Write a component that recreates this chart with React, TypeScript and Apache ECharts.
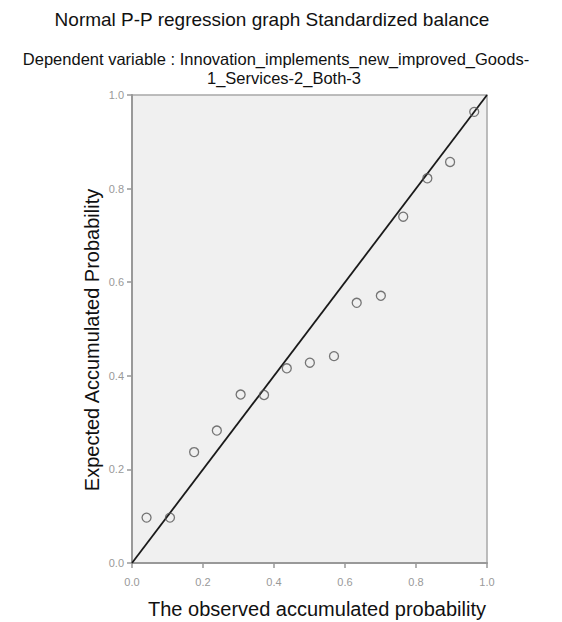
import React, { useEffect, useRef } from "react";
import * as echarts from "echarts";

const titleLine1 = "Normal P-P regression graph Standardized balance";
const titleLine2 = "Dependent variable : Innovation_implements_new_improved_Goods-";
const titleLine3 = "1_Services-2_Both-3";
const xAxisName = "The observed accumulated probability";
const yAxisName = "Expected Accumulated Probability";

const observedProb = [0.041, 0.107, 0.175, 0.239, 0.306, 0.372, 0.436, 0.501, 0.569, 0.633, 0.701, 0.764, 0.832, 0.896, 0.964];
const expectedProb = [0.097, 0.097, 0.237, 0.283, 0.360, 0.359, 0.416, 0.428, 0.442, 0.556, 0.571, 0.740, 0.822, 0.857, 0.964];
const referenceLine = [[0, 0], [1, 1]];

const FONT = "Liberation Sans, Arial, sans-serif";

export default function App() {
  const ref = useRef<HTMLDivElement>(null);

  useEffect(() => {
    document.body.style.margin = "0";
    if (!ref.current) return;
    const chart = echarts.init(ref.current, undefined, { renderer: "svg" });
    const points = observedProb.map((x, i) => [x, expectedProb[i]]);
    const axisCommon = {
      type: "value" as const,
      min: 0,
      max: 1,
      interval: 0.2,
      splitLine: { show: false },
      axisLine: { show: true, lineStyle: { color: "#999", width: 2 } },
      axisTick: { show: true, length: 5, lineStyle: { color: "#999", width: 1.5 } },
      axisLabel: {
        color: "#999",
        fontSize: 11,
        fontFamily: FONT,
        formatter: (v: number) => v.toFixed(1),
      },
    };
    chart.setOption({
      animation: false,
      backgroundColor: "#ffffff",
      grid: {
        left: 132,
        top: 95,
        width: 355,
        height: 468,
        show: true,
        backgroundColor: "#f0f0f0",
        borderColor: "#a8a8a8",
        borderWidth: 1.5,
      },
      xAxis: {
        ...axisCommon,
        axisLabel: { ...axisCommon.axisLabel, margin: 13 },
      },
      yAxis: {
        ...axisCommon,
        axisLabel: { ...axisCommon.axisLabel, margin: 8 },
      },
      graphic: [
        {
          type: "text",
          x: 272,
          y: 19,
          style: { text: titleLine1, font: `19px ${FONT}`, fill: "#111", textAlign: "center", textVerticalAlign: "middle" },
        },
        {
          type: "text",
          x: 276,
          y: 59,
          style: { text: titleLine2, font: `16.5px ${FONT}`, fill: "#111", textAlign: "center", textVerticalAlign: "middle" },
        },
        {
          type: "text",
          x: 284,
          y: 78,
          style: { text: titleLine3, font: `16.5px ${FONT}`, fill: "#111", textAlign: "center", textVerticalAlign: "middle" },
        },
        {
          type: "text",
          x: 317,
          y: 609,
          style: { text: xAxisName, font: `20px ${FONT}`, fill: "#111", textAlign: "center", textVerticalAlign: "middle" },
        },
        {
          type: "text",
          x: 92,
          y: 340,
          rotation: Math.PI / 2,
          style: { text: yAxisName, font: `20px ${FONT}`, fill: "#111", textAlign: "center", textVerticalAlign: "middle" },
        },
      ],
      series: [
        {
          type: "line",
          data: referenceLine,
          symbol: "none",
          lineStyle: { color: "#1a1a1a", width: 1.8 },
          silent: true,
          z: 2,
        },
        {
          type: "scatter",
          data: points,
          symbol: "circle",
          symbolSize: 9,
          itemStyle: { color: "rgba(0,0,0,0)", borderColor: "#555", borderWidth: 1.3 },
          z: 3,
        },
      ],
    });
    return () => chart.dispose();
  }, []);

  return <div ref={ref} style={{ width: 562, height: 622 }} />;
}
